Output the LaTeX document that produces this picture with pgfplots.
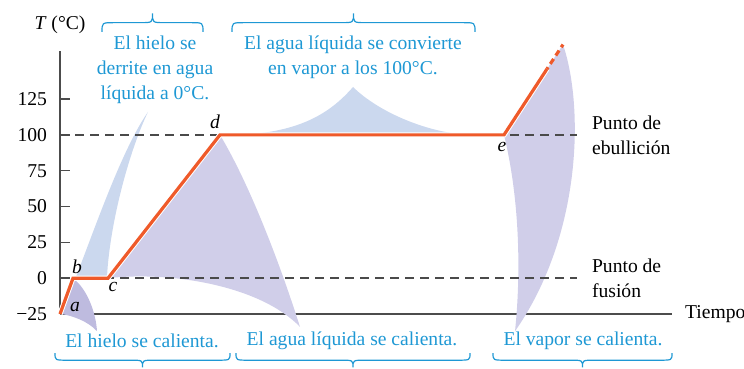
\documentclass[border=0pt]{standalone}
\usepackage{pgfplots}
\pgfplotsset{compat=1.18}
\usepackage{fontspec}
\setmainfont{Liberation Serif}

\definecolor{curve}{HTML}{EF5A2A}
\definecolor{note}{HTML}{1E98D4}
\definecolor{refline}{HTML}{4A4A4A}
\definecolor{lavmid}{HTML}{D0CEE9}
\definecolor{lavdeep}{HTML}{BEBBDF}
\definecolor{skymid}{HTML}{CBD8EE}

\newcommand{\txt}{\fontsize{9.8}{12.5}\selectfont}
% curly brace from x=#1 to x=#2 at level #3, tip height #4 (negative: downwards)
\newcommand{\curly}[4]{%
  \draw[note, line width=0.6pt] (#1,#3) .. controls (#1,{#3+#4/2}) .. ({#1+12},{#3+#4/2})
    -- ({(#1+#2)/2-12},{#3+#4/2}) .. controls ({(#1+#2)/2},{#3+#4/2}) .. ({(#1+#2)/2},{#3+#4})
    .. controls ({(#1+#2)/2},{#3+#4/2}) .. ({(#1+#2)/2+12},{#3+#4/2})
    -- ({#2-12},{#3+#4/2}) .. controls (#2,{#3+#4/2}) .. (#2,#3);}

\begin{document}
\begin{tikzpicture}
\begin{axis}[
  scale only axis, width=306pt, height=131.5pt,
  xmin=0, xmax=612, ymin=-25, ymax=158.5,
  axis lines=left,
  axis line style={-, draw=black!70, line width=0.7pt},
  xtick=\empty,
  ytick={-25,0,25,50,75,100,125},
  yticklabels={−25,0,25,50,75,100,125},
  tick align=inside, major tick length=5pt,
  tick style={draw=black!70, line width=0.7pt},
  yticklabel style={font=\txt, xshift=-3pt},
  clip=false,
]
% pointer wedges (solid fills)
\fill[skymid] (16,1) .. controls (35,35) and (62,90) .. (88,116) .. controls (70,90) and (50,40) .. (47,1) -- cycle;
\fill[lavmid] (160,100) -- (48,0) .. controls (110,5) and (200,-5) .. (240,-34) .. controls (220,10) and (190,65) .. (160,100) -- cycle;
\fill[skymid] (180,100) .. controls (240,102) and (270,115) .. (293,133.4) .. controls (320,115) and (370,101) .. (410,100) -- cycle;
\fill[lavmid] (444,100) -- (503,163) .. controls (524,120) and (522,30) .. (455,-37) .. controls (462,10) and (458,60) .. (444,100) -- cycle;
\fill[lavdeep] (13,0) .. controls (28,-8) and (36,-25) .. (37,-37) .. controls (28,-30) and (12,-26) .. (1,-25) -- cycle;

% reference lines
\addplot[refline, line width=0.7pt, dash pattern=on 4.5pt off 3pt] coordinates {(0,100) (517,100)};
\addplot[refline, line width=0.7pt, dash pattern=on 4.5pt off 3pt] coordinates {(0,0) (517,0)};

% heating curve
\addplot[white, line width=2.6pt] coordinates {(0,-25) (13,0) (48,0) (160,100) (444,100) (487,146)};
\addplot[curve, line width=1.6pt, line join=miter] coordinates {(0,-25) (13,0) (48,0) (160,100) (444,100) (487,146)};
\addplot[curve, line width=1.6pt, dash pattern=on 3pt off 2pt, dash phase=2pt] coordinates {(487,146) (503,163)};

% point labels
\node[font=\txt\itshape] at (15,-20) {a};
\node[font=\txt\itshape] at (17,8) {b};
\node[font=\txt\itshape] at (53,-6) {c};
\node[font=\txt\itshape] at (155,109) {d};
\node[font=\txt\itshape] at (442,91.5) {e};

% axis labels
\node[font=\txt] at (0,176.7) {\textit{T} (°C)};
\node[font=\txt, anchor=west] at (618,-25) {Tiempo};

\node[font=\txt, anchor=west, align=left] at (525,100) {Punto de\\ebullición};
\node[font=\txt, anchor=west, align=left] at (525,0) {Punto de\\fusión};

% blue notes
\node[font=\txt, text=note, align=center] at (95,145.3) {El hielo se\\derrite en agua\\líquida a 0°C.};
\node[font=\txt, text=note, align=center] at (293,154) {El agua líquida se convierte\\en vapor a los 100°C.};
\curly{42}{143}{171.8}{13}
\curly{172}{415}{171.8}{13}

\node[font=\txt, text=note] at (82,-43.8) {El hielo se calienta.};
\node[font=\txt, text=note] at (292,-43.8) {El agua líquida se calienta.};
\node[font=\txt, text=note] at (523,-43.8) {El vapor se calienta.};
\curly{-5}{170}{-52.2}{-10}
\curly{176}{410}{-52.2}{-10}
\curly{433}{612}{-52.2}{-10}

\coordinate (bbsw) at (-60,-62.7);
\coordinate (bbne) at (684,194.1);
\end{axis}
\pgfresetboundingbox
\path[use as bounding box] (bbsw) rectangle (bbne);
\end{tikzpicture}
\end{document}
